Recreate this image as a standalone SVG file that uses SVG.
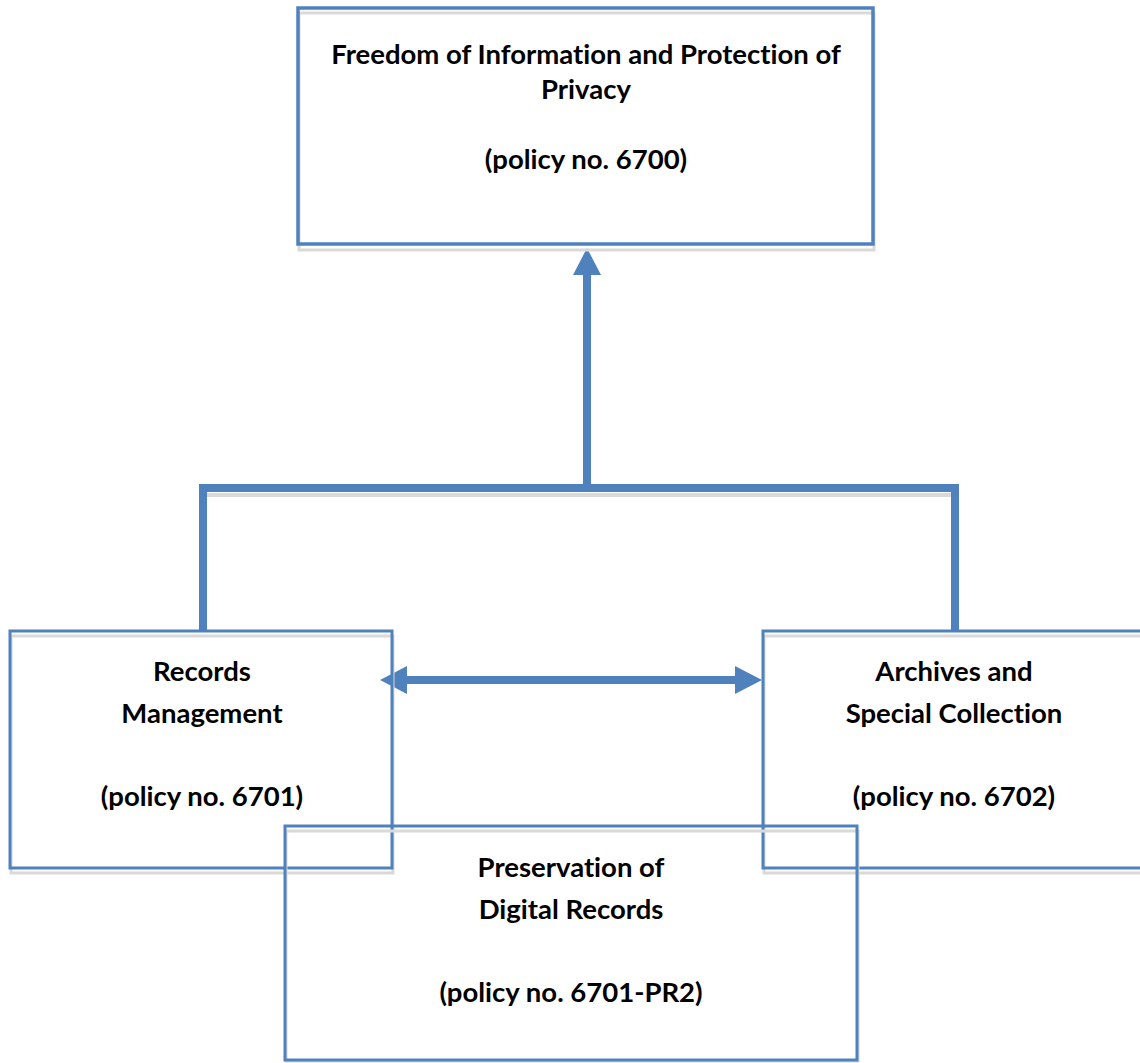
<svg xmlns="http://www.w3.org/2000/svg" width="1140" height="1063" viewBox="0 0 1140 1063">
<style>
.box{fill:none;stroke:#4f81bd;stroke-width:3}
.shadow{fill:none;stroke:#d9d9d9;stroke-width:3}
.conn{fill:none;stroke:#4f81bd;stroke-width:8}
.cshadow{fill:none;stroke:#d9d9d9;stroke-width:4}
.head{fill:#4f81bd}
.t{font-family:Lato,"Liberation Sans",sans-serif;font-weight:bold;font-size:27.5px;fill:#000;text-anchor:middle;font-variant-ligatures:none}
</style>
<rect width="1140" height="1063" fill="#fff"/>
<g id="connectors">
<path class="cshadow" d="M206,495 H952"/>
<path class="conn" d="M203,632 V488 H955 V632"/>
<path class="conn" d="M587,488 V272"/>
<path class="conn" d="M404,680 H739"/>
<path class="head" d="M380,680 L407,666 L407,694 Z"/>
<path class="head" d="M762,680 L735,666 L735,694 Z"/>
<path class="head" d="M587,248 L573,275 L601,275 Z"/>
</g>
<g id="node-foi">
<rect class="shadow" x="299" y="13" width="575" height="237"/>
<rect x="298" y="8" width="575" height="236" fill="none" stroke="#4f81bd" stroke-width="3.5"/>
<text class="t" x="586" y="64">Freedom of Information and Protection of</text>
<text class="t" x="586" y="99">Privacy</text>
<text class="t" x="586" y="169">(policy no. 6700)</text>
</g>
<g id="node-records">
<rect class="shadow" x="11" y="636" width="382" height="237"/>
<rect class="box" x="10" y="631" width="382" height="237"/>
<text class="t" x="202" y="681">Records</text>
<text class="t" x="202" y="723">Management</text>
<text class="t" x="202" y="806">(policy no. 6701)</text>
</g>
<g id="node-archives">
<rect class="shadow" x="764" y="636" width="400" height="237"/>
<rect class="box" x="763" y="631" width="400" height="237"/>
<text class="t" x="954" y="681">Archives and</text>
<text class="t" x="954" y="723">Special Collection</text>
<text class="t" x="954" y="806">(policy no. 6702)</text>
</g>
<g id="node-preservation">
<rect class="shadow" x="286" y="831" width="572" height="230"/>
<rect class="box" x="285" y="826" width="572" height="234"/>
<text class="t" x="571" y="877">Preservation of</text>
<text class="t" x="571" y="919">Digital Records</text>
<text class="t" x="571" y="1002">(policy no. 6701-PR2)</text>
</g>
</svg>
